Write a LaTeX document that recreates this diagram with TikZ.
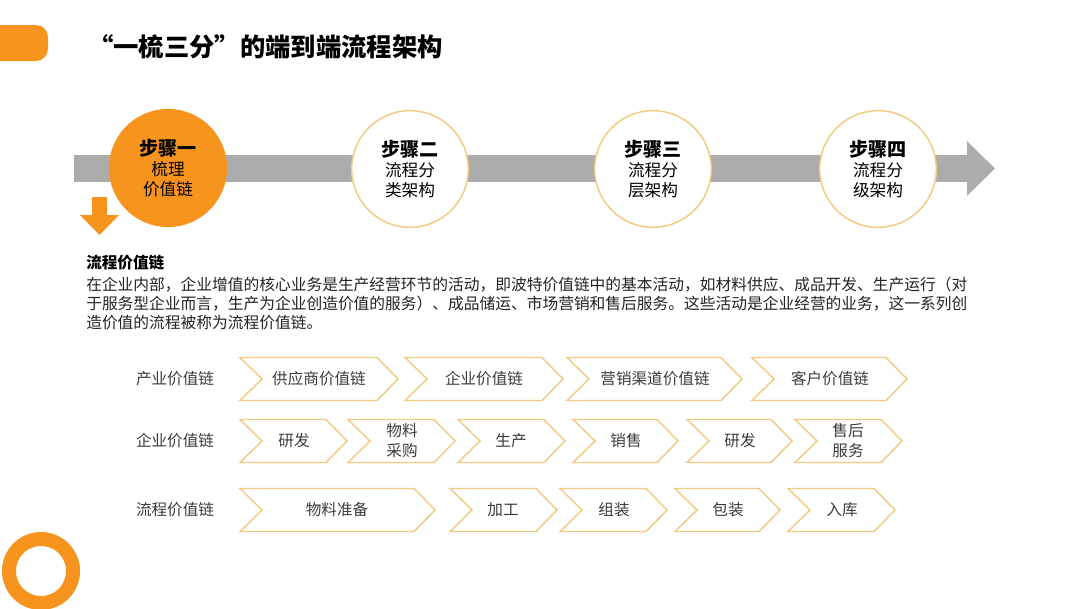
\documentclass[tikz,border=0pt]{standalone}
\usepackage{fontspec}
\setmainfont{Noto Sans CJK SC}
\usepackage{xcolor}
\usepackage{tikz}
\usetikzlibrary{arrows.meta,positioning,calc}
\definecolor{mainorange}{RGB}{247,148,30}
\definecolor{paleorange}{RGB}{243,203,128}
\definecolor{bargray}{RGB}{172,172,172}
\definecolor{darktext}{RGB}{35,35,35}
\definecolor{softtext}{RGB}{60,60,60}
\tikzset{
  stepcircle/.style={circle,draw=paleorange,fill=white,line width=1.1pt,minimum size=87.5pt,inner sep=0pt,align=center,text=black,font=\fontsize{12.5}{15}\selectfont},
  stepactive/.style={stepcircle,draw=mainorange,fill=mainorange},
  chevframe/.style={draw=paleorange,fill=white,line width=1.1pt,line join=miter},
  chevtext/.style={align=center,text=softtext,font=\fontsize{11.7}{15}\selectfont,inner sep=0pt},
  rowlabel/.style={text=softtext,font=\fontsize{11.7}{14}\selectfont,inner sep=0pt},
  bararrow/.style={-{Triangle[length=21pt,width=39.75pt]},line width=20.25pt,draw=bargray},
  downarrow/.style={-{Triangle[length=15pt,width=28.5pt]},line width=11.25pt,draw=mainorange}
}

\begin{document}
\begin{tikzpicture}[
  x=0.75pt,y=-0.75pt,
  titletext/.style={font=\fontsize{19}{22}\selectfont\bfseries,text=black,inner sep=0pt},
  headtext/.style={font=\fontsize{11.7}{14}\selectfont\bfseries,text=black,inner sep=0pt},
  bodytext/.style={font=\fontsize{11.8}{14.25}\selectfont,text=darktext,align=left,inner sep=0pt}
]

  \def\steptitle#1{{\bfseries\fontsize{14.3}{15}\selectfont #1}}

  \def\chevron#1#2#3{%
    \draw[chevframe] (#1,#3-21.5) -- (#2-21,#3-21.5) -- (#2,#3)
      -- (#2-21,#3+21.5) -- (#1,#3+21.5) -- (#1+22,#3) -- cycle;%
  }

  \useasboundingbox[fill=white] (0,0) rectangle (1080,608);

  \fill[mainorange,rounded corners=9pt] (-30,25) rectangle (48,61);
  \draw[mainorange,line width=10.5pt] (41,571) circle (32);

  \node[titletext,anchor=west] (pageTitle) at (88,47)
    {“一梳三分”的端到端流程架构};

  \coordinate (barStart) at (74,168.5);
  \coordinate (barEnd) at (995,168.5);
  \draw[bararrow] (barStart) -- (barEnd);

  \node[stepactive] (stepOne) at (168,168) {\steptitle{步骤一}\\梳理\\价值链};
  \node[stepcircle] (stepTwo) at (410,169) {\steptitle{步骤二}\\流程分\\类架构};
  \node[stepcircle] (stepThree) at (653,169) {\steptitle{步骤三}\\流程分\\层架构};
  \node[stepcircle] (stepFour) at (878,169) {\steptitle{步骤四}\\流程分\\级架构};

  \coordinate (downTop) at (99.5,197);
  \coordinate (downTip) at (99.5,235);
  \draw[downarrow] (downTop) -- (downTip);

  \node[headtext,anchor=west] (chainHead) at (86,263) {流程价值链};
  \node[bodytext,anchor=north west] (chainText) at (86,277)
    {在企业内部，企业增值的核心业务是生产经营环节的活动，即波特价值链中的基本活动，如材料供应、成品开发、生产运行（对\\
     于服务型企业而言，生产为企业创造价值的服务）、成品储运、市场营销和售后服务。这些活动是企业经营的业务，这一系列创\\
     造价值的流程被称为流程价值链。};

  \node[rowlabel] (rowIndustry) at (175,379) {产业价值链};
  \node[rowlabel] (rowCompany) at (175,441) {企业价值链};
  \node[rowlabel] (rowProcess) at (175,510) {流程价值链};

  \chevron{240}{398}{379}
  \chevron{405}{563}{379}
  \chevron{567}{742}{379}
  \chevron{752}{907}{379}

  \node[chevtext] (indSupplier) at (319,379) {供应商价值链};
  \node[chevtext] (indCompany) at (484,379) {企业价值链};
  \node[chevtext] (indChannel) at (655,379) {营销渠道价值链};
  \node[chevtext] (indCustomer) at (830,379) {客户价值链};

  \chevron{240}{347}{441}
  \chevron{348}{455}{441}
  \chevron{458}{565}{441}
  \chevron{573}{678}{441}
  \chevron{687}{792}{441}
  \chevron{795}{902}{441}

  \node[chevtext] (coResearch) at (294,441) {研发};
  \node[chevtext] (coPurchase) at (402,441) {物料\\采购};
  \node[chevtext] (coProduce) at (511,441) {生产};
  \node[chevtext] (coSales) at (626,441) {销售};
  \node[chevtext] (coResearchB) at (740,441) {研发};
  \node[chevtext] (coService) at (848,441) {售后\\服务};

  \chevron{240}{435}{510}
  \chevron{450}{557}{510}
  \chevron{560}{667}{510}
  \chevron{675}{780}{510}
  \chevron{788}{895}{510}

  \node[chevtext] (prPrepare) at (337,510) {物料准备};
  \node[chevtext] (prMachine) at (503,510) {加工};
  \node[chevtext] (prAssemble) at (614,510) {组装};
  \node[chevtext] (prPack) at (728,510) {包装};
  \node[chevtext] (prStore) at (842,510) {入库};

\end{tikzpicture}
\end{document}
